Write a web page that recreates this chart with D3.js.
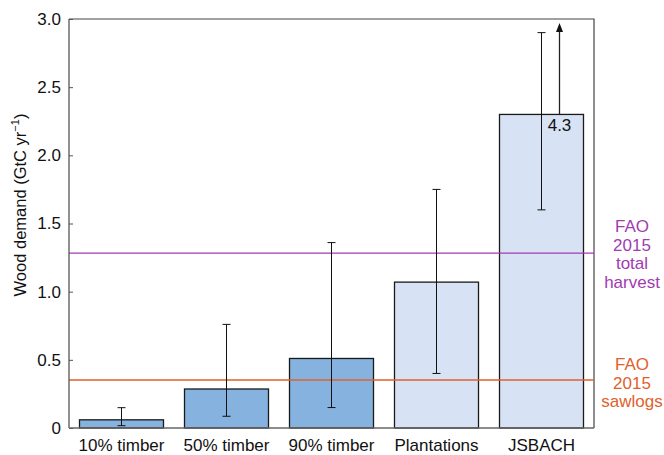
<!DOCTYPE html>
<html><head><meta charset="utf-8">
<script src="https://cdn.jsdelivr.net/npm/d3@7"></script>
<style>body{margin:0;background:#fff}text{font-family:"Liberation Sans",Arial,sans-serif}</style>
</head><body><svg id="c" width="664" height="455"></svg>
<script>
const categories = ["10% timber","50% timber","90% timber","Plantations","JSBACH"];
const values = [0.06, 0.286, 0.51, 1.07, 2.30];
const errLow = [0.017, 0.086, 0.15, 0.40, 1.60];
const errHigh = [0.149, 0.76, 1.36, 1.75, 2.90];
const barColors = ["#85b2de","#85b2de","#85b2de","#d7e3f4","#d7e3f4"];
const yTicks = [0, 0.5, 1.0, 1.5, 2.0, 2.5, 3.0];
const refLines = [
  {value: 1.283, color: "#a33ab3", label: ["FAO","2015","total","harvest"]},
  {value: 0.352, color: "#e0612c", label: ["FAO","2015","sawlogs"]}
];
const arrowValue = {cat: "JSBACH", from: 2.30, to: 3.0, label: "4.3"};

const svg = d3.select("#c");
const L = 69, R = 594, T = 19, B = 428;
const FS = 17;
const x = d3.scaleBand().domain(categories).range([L, R]).paddingInner(0.2).paddingOuter(0.1);
const y = d3.scaleLinear().domain([0, 3]).range([B, T]);

// frame
svg.append("path").attr("d", `M${L},${T}H${R}V${B}`).attr("fill","none").attr("stroke","#444").attr("stroke-width",1.2);

// bars
svg.selectAll("rect.bar").data(categories).join("rect")
  .attr("x", d => x(d)).attr("width", x.bandwidth())
  .attr("y", (d,i) => y(values[i])).attr("height", (d,i) => y(0) - y(values[i]))
  .attr("fill", (d,i) => barColors[i]).attr("stroke", "#1a1a1a").attr("stroke-width", 1.3);

// reference lines
refLines.forEach(r => {
  svg.append("line").attr("x1", L).attr("x2", R).attr("y1", y(r.value)).attr("y2", y(r.value))
    .attr("stroke", r.color).attr("stroke-width", 1.3);
});

// error bars
const cx = d => x(d) + x.bandwidth()/2;
categories.forEach((c,i) => {
  const g = svg.append("g").attr("stroke","#111").attr("stroke-width",1);
  g.append("line").attr("x1",cx(c)).attr("x2",cx(c)).attr("y1",y(errLow[i])).attr("y2",y(errHigh[i]));
  [errLow[i], errHigh[i]].forEach(v => g.append("line").attr("x1",cx(c)-4).attr("x2",cx(c)+4).attr("y1",y(v)).attr("y2",y(v)));
});

// arrow
const ax = cx(arrowValue.cat) + 18;
svg.append("line").attr("x1",ax).attr("x2",ax).attr("y1",y(arrowValue.from)).attr("y2",y(arrowValue.to)+9)
  .attr("stroke","#222").attr("stroke-width",1.3);
svg.append("path").attr("d",`M${ax},${y(arrowValue.to)+4}l-3.5,9h7z`).attr("fill","#111");
svg.append("text").attr("x", ax).attr("y", y(arrowValue.from)+17).attr("text-anchor","middle")
  .attr("font-size",FS).attr("fill","#111").text(arrowValue.label);

// y axis
const yAxis = d3.axisLeft(y).tickValues(yTicks).tickSize(-4).tickPadding(8)
  .tickFormat(d => d === 0 ? "0" : d3.format(".1f")(d));
const ga = svg.append("g").attr("transform",`translate(${L},0)`).call(yAxis);
ga.select(".domain").attr("stroke","#555").attr("stroke-width",1.3).attr("d",`M0,${T}V${B}`);
ga.selectAll(".tick line").attr("stroke","#555");
ga.selectAll("text").attr("font-size",FS).attr("fill","#111").attr("font-family","Liberation Sans, Arial, sans-serif");

// bottom axis
svg.append("line").attr("x1",L).attr("x2",R).attr("y1",B).attr("y2",B).attr("stroke","#666").attr("stroke-width",1.5);
svg.selectAll("text.xl").data(categories).join("text").attr("class","xl")
  .attr("x", d => cx(d)).attr("y", 451).attr("text-anchor","middle").attr("font-size",FS).attr("fill","#111").text(d => d);

// y label
const yl = svg.append("text").attr("transform",`translate(26,205) rotate(-90)`).attr("text-anchor","middle")
  .attr("font-size",16.5).attr("fill","#111");
yl.append("tspan").text("Wood demand (GtC yr");
yl.append("tspan").attr("dy",-7).attr("font-size",11).text("−1");
yl.append("tspan").attr("dy",7).text(")");

// right labels
refLines.forEach((r, k) => {
  const startY = k === 0 ? 232 : 370;
  const t = svg.append("text").attr("text-anchor","middle").attr("font-size",FS).attr("fill",r.color);
  r.label.forEach((s,j) => t.append("tspan").attr("x",632).attr("y",startY + j*18.5).text(s));
});
</script></body></html>
